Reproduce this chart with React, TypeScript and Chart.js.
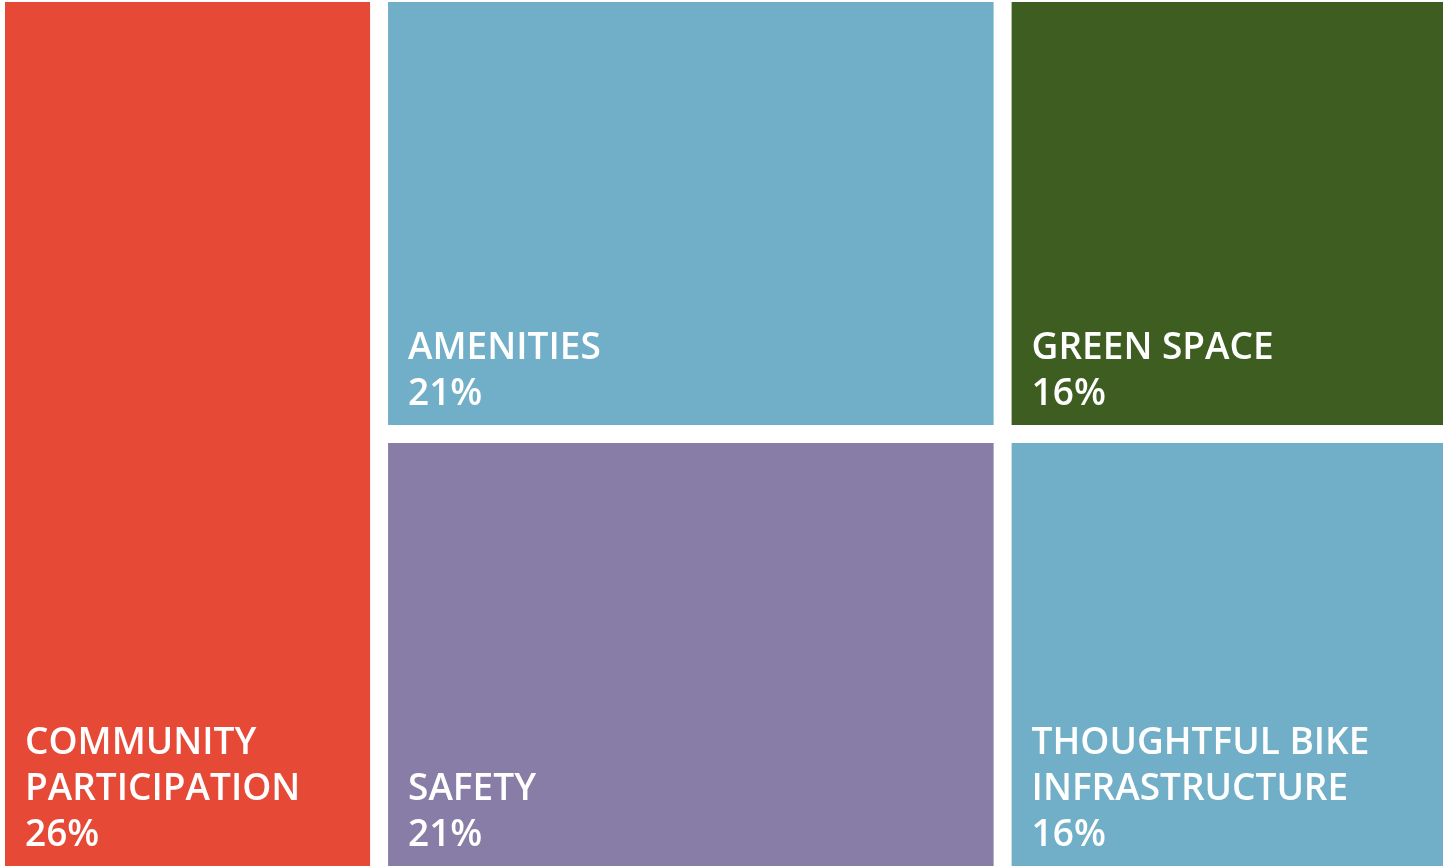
import React, { useEffect, useRef } from "react";
import { Chart, registerables } from "chart.js";

Chart.register(...registerables);

// ---- data ----
const categories = [
  "COMMUNITY PARTICIPATION",
  "AMENITIES",
  "SAFETY",
  "GREEN SPACE",
  "THOUGHTFUL BIKE INFRASTRUCTURE",
];
const shareValues = [25.9, 21.08, 21.08, 15.97, 15.97];
const columnGroup = [0, 1, 1, 2, 2];
const cellColors = ["#E64936", "#71AFC8", "#877DA7", "#3E5E21", "#71AFC8"];

const GAP = 18;
const FONT = "600 37px 'Open Sans'";
const LINE_H = 46;
const PAD_X = 20;
const PAD_BOTTOM = 20;

function wrap(ctx: CanvasRenderingContext2D, text: string, maxW: number): string[] {
  const words = text.split(" ");
  const lines: string[] = [];
  let cur = "";
  for (const w of words) {
    const test = cur ? cur + " " + w : w;
    if (ctx.measureText(test).width > maxW && cur) {
      lines.push(cur);
      cur = w;
    } else cur = test;
  }
  if (cur) lines.push(cur);
  return lines;
}

const treemapPlugin = {
  id: "treemapCells",
  afterDatasetsDraw(chart: any) {
    const ctx: CanvasRenderingContext2D = chart.ctx;
    const xs = chart.scales.x;
    const ys = chart.scales.y;
    const total = shareValues.reduce((a, b) => a + b, 0);
    const nCols = Math.max(...columnGroup) + 1;
    const colSums: number[] = [];
    for (let c = 0; c < nCols; c++) {
      colSums[c] = shareValues.reduce((s, v, i) => (columnGroup[i] === c ? s + v : s), 0);
    }
    let xCum = 0;
    ctx.save();
    for (let c = 0; c < nCols; c++) {
      const x0 = (xCum / total) * 100;
      const x1 = ((xCum + colSums[c]) / total) * 100;
      xCum += colSums[c];
      let yCum = 0;
      shareValues.forEach((v, i) => {
        if (columnGroup[i] !== c) return;
        const y0 = (yCum / colSums[c]) * 100;
        const y1 = ((yCum + v) / colSums[c]) * 100;
        yCum += v;
        const px0 = xs.getPixelForValue(x0) + GAP / 2;
        const px1 = xs.getPixelForValue(x1) - GAP / 2;
        const py0 = ys.getPixelForValue(y0) + GAP / 2;
        const py1 = ys.getPixelForValue(y1) - GAP / 2;
        ctx.fillStyle = cellColors[i];
        ctx.fillRect(px0, py0, px1 - px0, py1 - py0);

        ctx.font = FONT;
        ctx.fillStyle = "#FFFFFF";
        ctx.textAlign = "left";
        ctx.textBaseline = "alphabetic";
        const lines = wrap(ctx, categories[i], px1 - px0 - PAD_X * 2);
        lines.push(Math.round((v / total) * 100) + "%");
        let by = py1 - PAD_BOTTOM - (lines.length - 1) * LINE_H;
        for (const ln of lines) {
          ctx.fillText(ln, px0 + PAD_X, by);
          by += LINE_H;
        }
      });
    }
    ctx.restore();
  },
};

export default function App() {
  const ref = useRef<HTMLCanvasElement | null>(null);
  useEffect(() => {
    if (!ref.current) return;
    const chart = new Chart(ref.current, {
      type: "scatter",
      data: { datasets: [{ data: [] }] },
      options: {
        animation: false,
        responsive: true,
        maintainAspectRatio: false,
        layout: { padding: 0 },
        plugins: { legend: { display: false }, tooltip: { enabled: false } },
        scales: {
          x: { type: "linear", min: 0, max: 100, display: false },
          y: { type: "linear", min: 0, max: 100, reverse: true, display: false },
        },
      },
      plugins: [treemapPlugin],
    });
    return () => chart.destroy();
  }, []);
  return (
    <div
      style={{
        position: "fixed",
        left: 0,
        top: 0,
        width: 1443,
        height: 867,
        overflow: "hidden",
        background: "#fff",
      }}
    >
      <div style={{ position: "absolute", left: -4, top: -7, width: 1479, height: 882 }}>
        <canvas ref={ref} />
      </div>
    </div>
  );
}
